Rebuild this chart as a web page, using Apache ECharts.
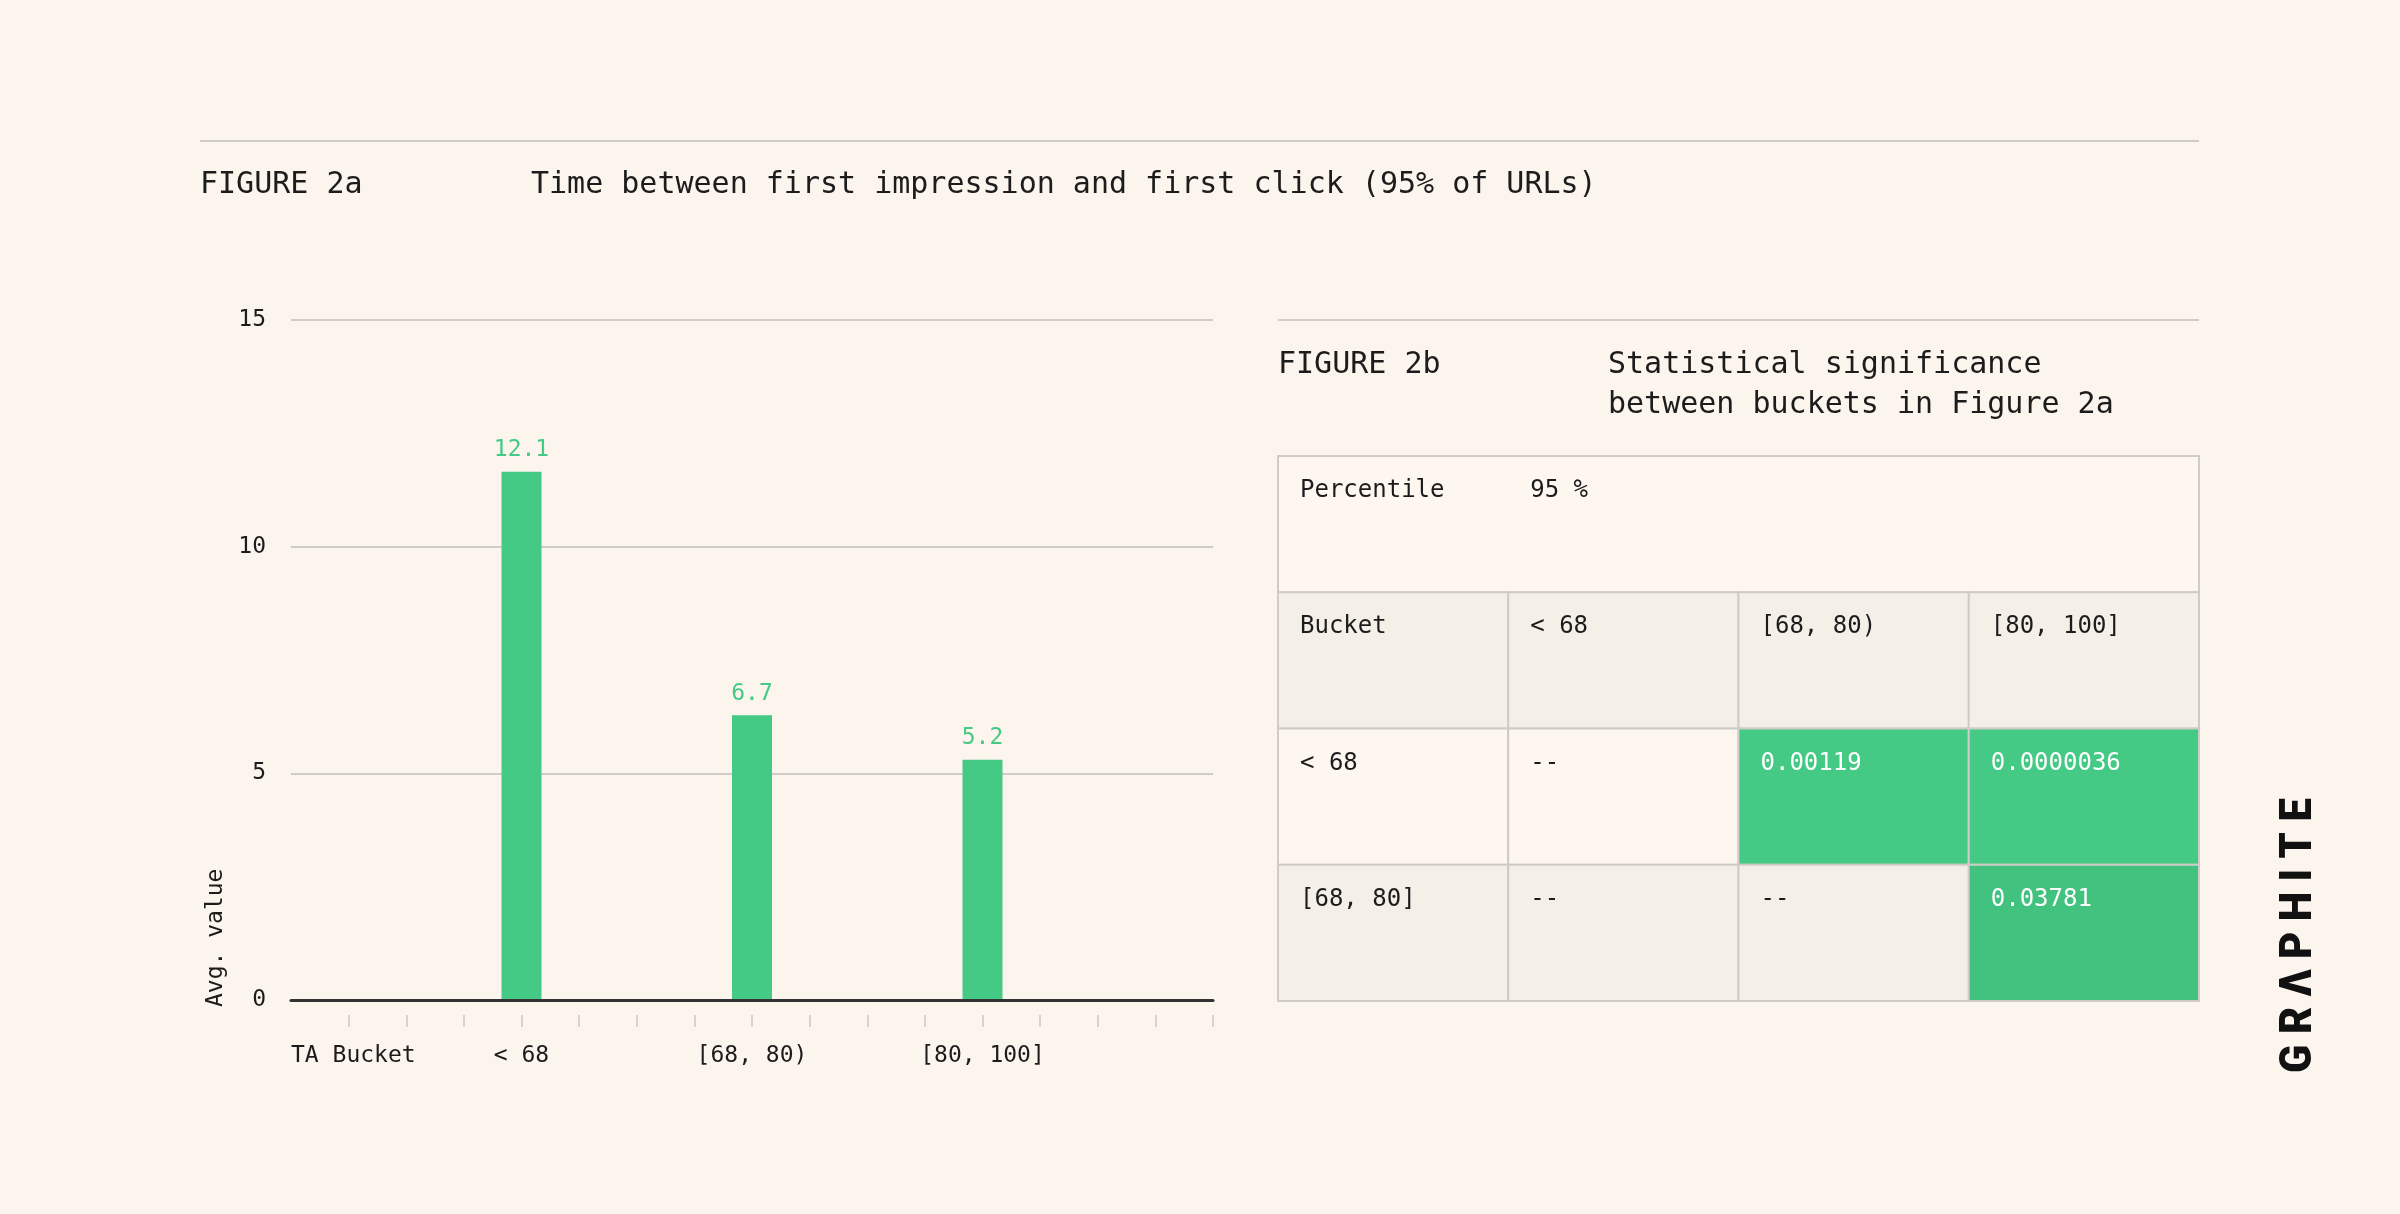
<!DOCTYPE html>
<html>
<head>
<meta charset="utf-8">
<script src="https://cdn.jsdelivr.net/npm/echarts@6/dist/echarts.min.js"></script>
<style>
  html, body { margin: 0; padding: 0; background: #fcf5ed; }
  #chart { width: 2400px; height: 1214px; }
</style>
</head>
<body>
<div id="chart"></div>
<script>
// Figure 2a : barres
const bucketLabels = ['< 68', '[68, 80)', '[80, 100]'];
const barHeights = [11.65, 6.28, 5.3];
const barLabels = ['12.1', '6.7', '5.2'];
const axisName = 'TA Bucket';
const slotsPerBucket = 4; // l'axe a 16 pas, une barre tous les 4

// Figure 2b : tableau de significativité
const percentileRow = ['Percentile', '95 %'];
const tableHeader = ['Bucket', '< 68', '[68, 80)', '[80, 100]'];
const tableRowHeads = ['< 68', '[68, 80]'];
const pValues = [[null, 0.00119, 0.0000036], [null, null, 0.03781]];
const pValueLabels = [['--', '0.00119', '0.0000036'], ['--', '--', '0.03781']];

const MONO = "'DejaVu Sans Mono', monospace";
const INK = '#1c1c1c';
const GREEN = '#44ca84';
const RULE = '#cfccc7';

// créneaux de l'axe x
const slotCount = slotsPerBucket * (bucketLabels.length + 1) + 1;
const slots = [];
const barData = [];
for (let i = 0; i < slotCount; i++) {
    const b = i / slotsPerBucket - 1;
    if (i === 0) {
        slots.push({ value: axisName, textStyle: { align: 'left' } });
        barData.push('-');
    } else if (i % slotsPerBucket === 0 && b < bucketLabels.length) {
        slots.push(bucketLabels[b]);
        barData.push({ value: barHeights[b], label: { formatter: barLabels[b] } });
    } else {
        slots.push('');
        barData.push('-');
    }
}

// cellules du tableau
const cells = [];
cells.push({ col: 0, row: 0, span: 4, text: '', fill: '#fdf7f0' });
percentileRow.forEach((t, i) => cells.push({ col: i, row: 0, span: 1, text: t, fill: null, color: INK }));
tableHeader.forEach((t, i) => cells.push({ col: i, row: 1, span: 1, text: t, fill: '#f4f0e8', color: INK }));
tableRowHeads.forEach((head, r) => {
    const row = r + 2;
    const bg = row % 2 === 0 ? '#fdf7f0' : '#f4f0e8';
    cells.push({ col: 0, row: row, span: 1, text: head, fill: bg, color: INK });
    pValues[r].forEach((p, c) => {
        const sig = p !== null && p < 0.05;
        cells.push({
            col: c + 1, row: row, span: 1,
            text: pValueLabels[r][c],
            fill: sig ? (p < 0.01 ? GREEN : '#41c27e') : bg,
            color: sig ? '#ffffff' : INK
        });
    });
});

const chart = echarts.init(document.getElementById('chart'), null, { renderer: 'canvas' });

const option = {
    backgroundColor: '#fcf5ed',
    animation: false,
    textStyle: { fontFamily: MONO },
    grid: [
        { left: 291, top: 320, width: 922, height: 680 },
        { left: 1278, top: 456, width: 921, height: 545 }
    ],
    xAxis: [
        {
            gridIndex: 0,
            type: 'category',
            data: slots,
            boundaryGap: false,
            z: 5,
            axisLine: { lineStyle: { color: '#333333', width: 3 } },
            axisTick: { show: false },
            axisLabel: { interval: 0, margin: 45, fontSize: 23, color: INK, fontFamily: MONO }
        },
        {
            gridIndex: 0,
            type: 'category',
            data: slots,
            boundaryGap: false,
            position: 'bottom',
            offset: 15,
            axisLine: { show: false },
            axisTick: {
                show: true,
                interval: (i) => i > 0,
                length: 12,
                lineStyle: { color: '#d6d2cc', width: 2 }
            },
            axisLabel: { show: false }
        },
        {
            gridIndex: 1,
            type: 'category',
            data: [0, 1, 2, 3],
            show: false
        }
    ],
    yAxis: [
        {
            gridIndex: 0,
            type: 'value',
            min: 0,
            max: 15,
            interval: 5,
            axisLine: { show: false },
            axisTick: { show: false },
            splitLine: { lineStyle: { color: RULE, width: 2 } },
            axisLabel: { margin: 25, fontSize: 23, color: INK, fontFamily: MONO }
        },
        {
            gridIndex: 1,
            type: 'category',
            data: [0, 1, 2, 3],
            inverse: true,
            show: false
        }
    ],
    series: [
        {
            type: 'bar',
            xAxisIndex: 0,
            yAxisIndex: 0,
            data: barData,
            barWidth: 40,
            itemStyle: { color: GREEN },
            label: {
                show: true,
                position: 'top',
                distance: 10,
                color: GREEN,
                fontSize: 23,
                fontFamily: MONO
            }
        },
        {
            type: 'custom',
            xAxisIndex: 2,
            yAxisIndex: 1,
            data: cells.map(c => [c.col, c.row]),
            renderItem: function (params, api) {
                const c = cells[params.dataIndex];
                const center = api.coord([c.col, c.row]);
                const size = api.size([1, 1]);
                const x = center[0] - size[0] / 2;
                const y = center[1] - size[1] / 2;
                const children = [];
                if (c.fill) {
                    children.push({
                        type: 'rect',
                        shape: { x: x, y: y, width: size[0] * c.span, height: size[1] },
                        style: { fill: c.fill, stroke: RULE, lineWidth: 2 }
                    });
                }
                if (c.text) {
                    children.push({
                        type: 'text',
                        z2: 10,
                        style: {
                            x: x + 22, y: y + 35,
                            text: c.text,
                            fill: c.color,
                            font: '24px ' + MONO,
                            verticalAlign: 'middle'
                        }
                    });
                }
                return { type: 'group', children: children };
            }
        }
    ],
    graphic: [
        { type: 'line', shape: { x1: 200, y1: 141, x2: 2199, y2: 141 }, style: { stroke: RULE, lineWidth: 2 } },
        { type: 'line', shape: { x1: 1278, y1: 320, x2: 2199, y2: 320 }, style: { stroke: RULE, lineWidth: 2 } },
        { type: 'text', x: 200, y: 185, style: { text: 'FIGURE 2a', font: '30px ' + MONO, fill: INK, verticalAlign: 'middle' } },
        { type: 'text', x: 531, y: 185, style: { text: 'Time between first impression and first click (95% of URLs)', font: '30px ' + MONO, fill: INK, verticalAlign: 'middle' } },
        { type: 'text', x: 1278, y: 365, style: { text: 'FIGURE 2b', font: '30px ' + MONO, fill: INK, verticalAlign: 'middle' } },
        { type: 'text', x: 1608, y: 345, style: { text: 'Statistical significance\nbetween buckets in Figure 2a', font: '30px ' + MONO, lineHeight: 40, fill: INK, verticalAlign: 'top' } },
        { type: 'text', x: 216, y: 1007, rotation: Math.PI / 2, style: { text: 'Avg. value', font: '23px ' + MONO, fill: INK, align: 'left', verticalAlign: 'middle' } },
        { type: 'text', x: 2300, y: 1073, rotation: Math.PI / 2, scaleX: 0.93, style: { text: 'G R Λ P H I T E', font: '900 45px Roboto', fill: '#111111', align: 'left', verticalAlign: 'middle' } }
    ]
};

chart.setOption(option);
</script>
</body>
</html>
